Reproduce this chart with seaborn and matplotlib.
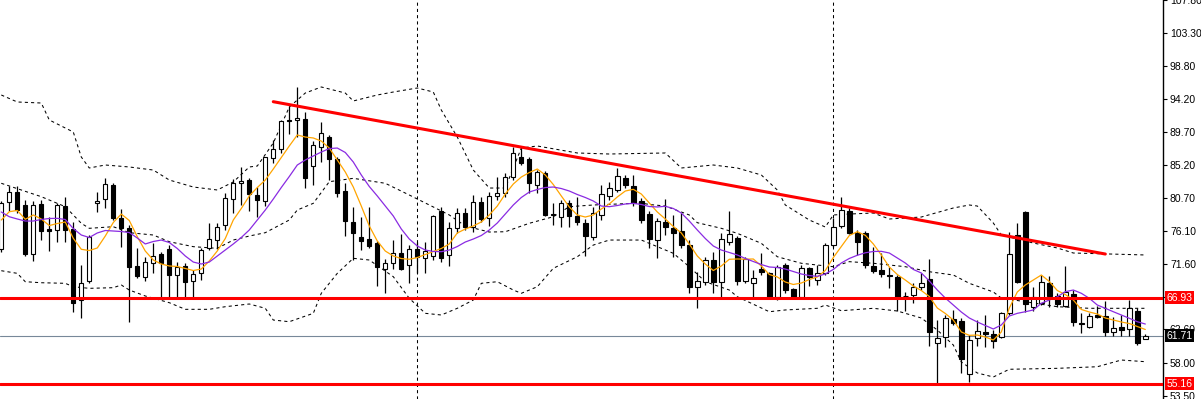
import numpy as np
import pandas as pd
import matplotlib
matplotlib.use("Agg")
import matplotlib.pyplot as plt
import seaborn as sns

# weekly candles, oldest first
opens = [73.60, 80.05, 81.43, 79.68, 72.91, 79.82, 76.39, 76.21, 79.54, 76.35,
         66.64, 69.29, 79.92, 80.46, 82.43, 77.85, 76.56, 71.31, 69.84, 71.67,
         72.91, 73.60, 70.07, 71.35, 69.29, 70.30, 73.73, 74.87, 76.93, 80.46,
         82.66, 83.11, 81.05, 80.27, 86.09, 87.33, 91.35, 91.31, 91.44, 85.03,
         87.68, 88.97, 85.95, 81.60, 77.30, 75.25, 74.97, 74.50, 70.85, 71.67,
         73.13, 71.44, 73.64, 72.36, 72.68, 78.86, 72.82, 76.48, 78.62, 76.70,
         80.14, 77.85, 80.92, 81.29, 83.48, 86.31, 85.95, 82.43, 84.03, 78.44,
         78.08, 79.92, 78.21, 77.17, 75.33, 78.31, 80.96, 81.74, 83.34, 82.29,
         80.27, 78.44, 74.87, 77.39, 76.56, 76.11, 74.18, 68.38, 69.15, 72.13,
         69.15, 74.64, 75.11, 69.29, 68.93, 70.89, 70.30, 67.01, 71.44, 68.11,
         67.09, 70.99, 69.38, 70.30, 74.18, 76.80, 78.90, 75.79, 75.88, 71.31,
         70.76, 70.07, 69.84, 67.19, 67.33, 68.38, 69.48, 60.69, 61.52, 64.00,
         63.76, 56.48, 61.38, 62.20, 61.93, 61.52, 64.81, 75.56, 78.76, 65.72,
         66.19, 69.01, 67.19, 65.82, 67.46, 63.45, 62.89, 64.58, 64.44, 62.29,
         62.97, 62.62, 65.17, 61.24]
highs = [80.23, 82.29, 82.29, 80.37, 80.27, 80.37, 78.08, 79.92, 80.82, 77.35,
         71.44, 75.56, 81.51, 83.34, 82.66, 79.09, 76.93, 73.73, 72.59, 74.50,
         73.27, 74.18, 71.85, 71.72, 70.76, 73.77, 77.17, 77.17, 81.28, 83.21,
         84.86, 83.39, 82.19, 86.31, 88.60, 91.35, 93.27, 95.92, 92.49, 88.46,
         91.11, 89.29, 86.27, 82.74, 79.45, 78.08, 79.45, 74.74, 72.22, 74.87,
         75.70, 74.18, 74.64, 74.64, 78.31, 79.45, 77.39, 79.23, 79.23, 81.05,
         80.82, 81.51, 83.56, 84.03, 87.60, 87.60, 86.27, 84.48, 84.39, 80.00,
         80.37, 80.37, 80.82, 77.72, 79.45, 82.43, 82.88, 84.72, 83.80, 83.80,
         80.64, 78.86, 77.85, 80.46, 78.31, 78.54, 74.87, 70.52, 72.50, 73.27,
         75.79, 78.90, 75.42, 72.59, 70.76, 73.05, 70.52, 71.44, 71.67, 68.29,
         71.44, 71.21, 71.44, 74.42, 77.85, 80.82, 79.23, 76.25, 76.11, 73.96,
         73.05, 71.21, 70.07, 67.78, 68.93, 70.30, 72.22, 63.89, 64.58, 65.27,
         64.17, 61.83, 63.89, 64.58, 62.52, 65.03, 76.01, 77.17, 78.86, 68.46,
         70.07, 69.93, 67.64, 71.31, 68.01, 64.81, 64.81, 65.82, 66.50, 64.35,
         64.58, 66.64, 65.50, 61.97]
lows = [73.23, 78.90, 78.58, 72.68, 72.03, 74.87, 73.41, 74.64, 74.64, 65.03,
        64.13, 68.97, 78.76, 79.23, 77.62, 73.96, 63.66, 69.66, 69.29, 70.30,
        66.87, 66.87, 66.87, 66.87, 66.87, 69.38, 73.50, 73.60, 76.25, 78.62,
        79.68, 78.90, 77.99, 79.58, 85.49, 86.78, 89.43, 89.06, 81.97, 82.43,
        85.62, 83.11, 80.82, 75.42, 72.13, 73.50, 73.73, 68.56, 67.56, 70.85,
        70.76, 68.93, 70.39, 70.30, 72.13, 71.85, 71.35, 75.88, 76.25, 76.02,
        77.35, 76.80, 80.37, 80.78, 83.11, 85.17, 81.37, 81.37, 78.17, 76.93,
        76.70, 76.70, 76.93, 72.68, 74.87, 77.62, 80.37, 81.46, 82.01, 79.54,
        77.25, 73.73, 72.36, 75.56, 72.50, 73.77, 67.56, 65.50, 68.70, 67.64,
        67.09, 74.18, 68.70, 68.97, 67.09, 70.07, 66.91, 66.64, 67.60, 67.05,
        67.05, 68.56, 68.70, 70.07, 73.91, 76.52, 75.70, 72.82, 70.99, 70.35,
        69.80, 68.24, 65.17, 65.17, 66.19, 68.01, 60.32, 55.29, 60.23, 63.21,
        56.66, 55.42, 60.32, 60.23, 60.01, 61.42, 64.58, 68.97, 65.03, 65.17,
        65.95, 65.64, 65.64, 65.64, 63.07, 62.07, 62.80, 64.17, 61.70, 61.70,
        61.70, 61.70, 60.46, 61.24]
closes = [79.92, 81.43, 78.99, 72.91, 79.68, 76.15, 76.11, 79.64, 76.25, 66.27,
          68.93, 75.33, 80.19, 82.52, 77.85, 76.56, 71.21, 69.93, 71.81, 72.68,
          71.76, 70.07, 71.21, 69.15, 70.17, 73.50, 74.97, 76.70, 80.60, 82.66,
          82.93, 81.15, 80.37, 86.23, 87.33, 91.21, 91.21, 91.62, 83.34, 87.92,
          89.52, 85.95, 81.37, 77.53, 75.80, 74.78, 74.09, 71.13, 71.67, 73.13,
          70.94, 73.60, 72.50, 73.37, 78.17, 72.36, 76.48, 78.62, 76.70, 80.05,
          77.72, 80.96, 81.29, 83.48, 86.86, 85.49, 82.66, 84.17, 78.31, 78.31,
          80.00, 78.17, 77.39, 75.47, 78.54, 81.15, 81.97, 83.66, 82.43, 80.00,
          77.62, 74.97, 77.48, 76.70, 75.88, 74.18, 68.46, 69.29, 72.13, 69.15,
          74.97, 75.66, 69.29, 72.22, 69.62, 70.52, 67.01, 71.21, 68.01, 67.09,
          70.99, 69.84, 70.39, 74.18, 76.62, 78.99, 75.88, 74.64, 71.44, 70.66,
          70.17, 69.93, 67.09, 67.12, 68.38, 69.01, 62.29, 61.38, 64.13, 63.45,
          58.50, 61.15, 62.38, 61.97, 61.05, 64.81, 72.91, 69.15, 66.09, 67.09,
          69.15, 67.19, 66.09, 67.78, 63.66, 63.30, 64.44, 64.35, 62.29, 62.75,
          62.52, 65.50, 60.78, 61.71]

# moving averages, one value per candle
ma_fast = [77.62, 78.76, 78.93, 77.72, 78.31, 77.76, 76.86, 77.14, 77.35, 75.11,
           73.60, 73.43, 73.78, 75.42, 77.28, 78.44, 77.55, 75.33, 73.36, 72.13,
           71.58, 71.31, 71.24, 70.96, 70.69, 70.89, 71.99, 73.37, 75.08, 77.62,
           79.20, 80.92, 82.08, 83.11, 84.62, 86.20, 87.78, 89.29, 89.01, 88.88,
           88.46, 87.50, 85.86, 84.21, 82.15, 79.54, 76.80, 74.74, 73.36, 72.68,
           72.33, 72.23, 72.47, 72.88, 73.30, 73.71, 74.33, 75.84, 76.38, 76.80,
           77.35, 78.31, 79.54, 81.19, 82.56, 83.52, 84.14, 84.62, 83.80, 82.49,
           80.92, 79.41, 78.31, 78.03, 78.31, 79.13, 79.82, 80.78, 81.60, 81.83,
           81.19, 79.95, 78.72, 77.76, 76.73, 75.84, 74.33, 72.68, 71.58, 70.69,
           71.31, 72.23, 72.27, 72.24, 72.27, 71.31, 70.14, 69.80, 69.11, 68.77,
           68.97, 69.45, 69.80, 70.69, 72.47, 73.98, 75.49, 76.01, 75.52, 74.33,
           72.82, 71.17, 70.14, 69.38, 68.56, 67.94, 67.12, 65.54, 64.79, 63.89,
           62.25, 61.79, 61.83, 61.56, 61.15, 62.25, 65.54, 67.74, 68.70, 69.38,
           70.07, 69.18, 67.94, 67.39, 66.64, 65.34, 64.99, 64.72, 64.17, 63.89,
           63.62, 63.41, 63.00, 62.59]
ma_slow = [78.72, 78.07, 77.76, 77.48, 77.48, 77.69, 77.83, 77.85, 77.69, 76.45,
           75.56, 75.22, 75.84, 76.18, 76.11, 76.04, 75.90, 75.15, 74.33, 74.67,
           74.87, 74.53, 73.71, 72.68, 71.85, 71.58, 71.85, 72.68, 73.50, 74.33,
           75.22, 76.25, 77.62, 78.99, 80.50, 82.08, 83.59, 85.17, 85.86, 86.41,
           86.95, 87.43, 87.50, 86.89, 85.58, 83.80, 82.22, 80.92, 79.54, 78.17,
           76.39, 75.01, 74.05, 73.50, 73.30, 73.27, 73.50, 73.98, 74.60, 75.01,
           75.49, 76.25, 77.21, 78.44, 79.68, 80.71, 81.46, 81.81, 82.08, 82.15,
           81.94, 81.60, 81.12, 80.71, 80.23, 79.54, 79.45, 79.61, 79.82, 79.91,
           79.75, 79.47, 79.41, 79.50, 79.20, 78.58, 77.48, 76.25, 75.08, 74.05,
           73.50, 73.16, 72.82, 72.34, 71.92, 71.51, 71.17, 71.10, 70.89, 70.55,
           70.21, 70.00, 69.89, 70.21, 70.83, 71.72, 72.34, 72.78, 73.12, 73.30,
           73.32, 73.09, 72.40, 71.72, 70.83, 70.35, 69.25, 68.01, 66.91, 65.95,
           64.99, 64.17, 63.62, 63.14, 62.66, 63.21, 64.44, 64.81, 65.03, 65.27,
           66.19, 66.64, 67.09, 67.78, 68.01, 67.56, 66.87, 65.95, 65.50, 65.03,
           64.58, 64.13, 63.66, 63.34]

# bollinger bands, read at selected candles
bb_up_idx = [0, 2, 5, 6, 9, 10, 11, 13, 16, 19, 21, 24, 27, 29, 31, 32, 34, 36, 38, 40,
             43, 44, 47, 49, 52, 54, 55, 57, 59, 61, 63, 65, 67, 72, 76, 83, 85, 89, 92, 95,
             97, 98, 101, 103, 104, 106, 109, 111, 115, 119, 121, 122, 124, 125, 129, 132, 134, 143]
bb_up = [94.78, 93.82, 93.68, 91.35, 89.70, 86.27, 84.76, 85.17, 84.90, 84.48,
         83.11, 82.15, 81.74, 82.84, 84.90, 85.03, 88.19, 93.13, 95.05, 95.88,
         95.05, 93.96, 94.78, 95.19, 95.74, 95.19, 92.72, 89.01, 84.48, 82.01,
         82.01, 87.50, 87.78, 86.82, 86.68, 86.82, 84.76, 85.17, 84.76, 83.80,
         81.74, 79.68, 77.62, 76.66, 78.31, 78.44, 78.58, 77.76, 78.03, 79.27,
         79.68, 79.54, 77.21, 75.56, 74.46, 73.78, 73.09, 72.82]
bb_mid_idx = [0, 5, 8, 10, 11, 14, 16, 19, 21, 24, 27, 29, 31, 33, 36, 37, 39, 41, 44, 48,
              51, 54, 56, 58, 61, 63, 66, 69, 71, 74, 80, 81, 83, 86, 87, 90, 92, 95, 97, 100,
              102, 104, 106, 109, 113, 116, 119, 121, 124, 125, 132, 136, 143]
bb_mid = [82.66, 80.82, 79.45, 77.17, 76.48, 76.70, 75.88, 75.56, 74.64, 73.96,
          73.73, 74.87, 75.42, 75.88, 77.62, 78.99, 79.91, 82.88, 83.34, 82.66,
          81.05, 79.41, 78.31, 76.80, 75.97, 76.01, 77.17, 78.07, 79.45, 79.68,
          79.95, 79.75, 79.54, 78.31, 77.25, 76.48, 75.79, 74.42, 72.58, 71.68,
          71.44, 71.21, 71.90, 71.68, 71.21, 70.52, 70.07, 68.93, 67.74, 66.91,
          65.72, 65.50, 65.50]
bb_lo_idx = [0, 2, 3, 5, 8, 9, 11, 14, 15, 16, 18, 21, 23, 26, 28, 31, 33, 34, 36, 39,
             40, 42, 44, 46, 49, 51, 53, 55, 57, 59, 60, 62, 64, 65, 67, 69, 72, 74, 76, 80,
             82, 84, 86, 88, 91, 92, 96, 98, 102, 103, 105, 109, 112, 115, 117, 119, 120, 122,
             124, 126, 132, 137, 140, 143]
bb_lo = [70.66, 70.30, 69.15, 69.01, 68.93, 68.46, 68.24, 68.33, 68.70, 68.01,
         67.19, 66.27, 65.36, 65.36, 65.72, 66.09, 65.50, 63.89, 63.66, 64.81,
         67.56, 70.30, 72.36, 72.13, 69.84, 66.87, 64.81, 64.58, 65.50, 66.64,
         68.93, 69.15, 68.01, 67.56, 68.46, 70.99, 72.58, 74.18, 74.87, 74.87,
         73.96, 73.05, 71.21, 69.15, 68.01, 67.09, 65.03, 65.27, 65.50, 65.95,
         65.17, 65.50, 65.13, 64.17, 62.52, 60.46, 58.13, 56.62, 56.07, 57.13,
         57.26, 57.48, 58.40, 58.17]

# drawn objects
trend_idx = [34, 138]
trend_val = [93.86, 72.95]
resistance = 66.93
support = 55.16
last_price = 61.71
year_breaks = [52, 104]
price_ticks = [107.80, 103.30, 98.80, 94.20, 89.70, 85.20, 80.70, 76.10,
               71.60, 67.10, 62.60, 58.00, 53.50]
# the 67.10 label sits fully under the 66.93 tag, so it is left blank
price_labels = [f"{t:.2f}" if t != 67.10 else "" for t in price_ticks]

# ---------------------------------------------------------------------------
sns.set_style("white")
plt.rcParams['font.family'] = ['Liberation Sans', 'DejaVu Sans']

df = pd.DataFrame({'o': opens, 'h': highs, 'l': lows, 'c': closes})
df['i'] = np.arange(len(df))
bull = df['c'] >= df['o']

fig = plt.figure(figsize=(12.01, 3.99), dpi=100)
ax = fig.add_axes([0, 0, 1163 / 1201, 1])

# candles
ax.vlines(df['i'], df['l'], df['h'], color='black', linewidth=0.9, zorder=3)
ax.bar(df['i'], (df['c'] - df['o']).abs(), bottom=df[['o', 'c']].min(axis=1),
       width=0.55, color=np.where(bull, 'white', 'black'), edgecolor='black',
       linewidth=0.8, zorder=4)

# moving averages
sns.lineplot(x=df['i'], y=ma_fast, color='#FFA500', linewidth=0.9, ax=ax, zorder=5, legend=False)
sns.lineplot(x=df['i'], y=ma_slow, color='#8A2BE2', linewidth=0.9, ax=ax, zorder=5, legend=False)

# bands
for bx, by in [(bb_up_idx, bb_up), (bb_mid_idx, bb_mid), (bb_lo_idx, bb_lo)]:
    sns.lineplot(x=bx, y=by, color='black', linewidth=0.75, linestyle=(0, (3, 3)),
                 ax=ax, zorder=2, legend=False)

# levels and trendline
ax.axhline(resistance, color='red', linewidth=2.2, zorder=6)
ax.axhline(support, color='red', linewidth=2.2, zorder=6)
ax.axhline(last_price, color='#778899', linewidth=0.8, zorder=1)
ax.plot(trend_idx, trend_val, color='red', linewidth=2.2, zorder=6)
for xb in year_breaks:
    ax.axvline(xb, color='black', linewidth=0.75, linestyle=(0, (3, 3)), zorder=1)

ax.set_xlim(-0.16, 145.21)
ax.set_ylim(53.05, 107.82)
ax.set_xlabel('')
ax.set_ylabel('')
ax.set_xticks([])

ax.yaxis.tick_right()
ax.set_yticks(price_ticks)
ax.set_yticklabels(price_labels)
ax.tick_params(axis='y', direction='out', length=3, width=0.8, pad=2,
               labelsize=7.5, colors='black', right=True, left=False)
for side in ['left', 'top', 'bottom']:
    ax.spines[side].set_visible(False)
ax.spines['right'].set_color('black')
ax.spines['right'].set_linewidth(1)

# price tags on the scale
for val, bg in [(resistance, 'red'), (support, 'red'), (last_price, 'black')]:
    ax.text(1.003, val, f"{val:.2f}", transform=ax.get_yaxis_transform(),
            ha='left', va='center', fontsize=7.5, color='white', clip_on=False, zorder=10,
            bbox=dict(boxstyle='square,pad=0.15', facecolor=bg, edgecolor='none'))

plt.savefig("out.png", dpi=100)
